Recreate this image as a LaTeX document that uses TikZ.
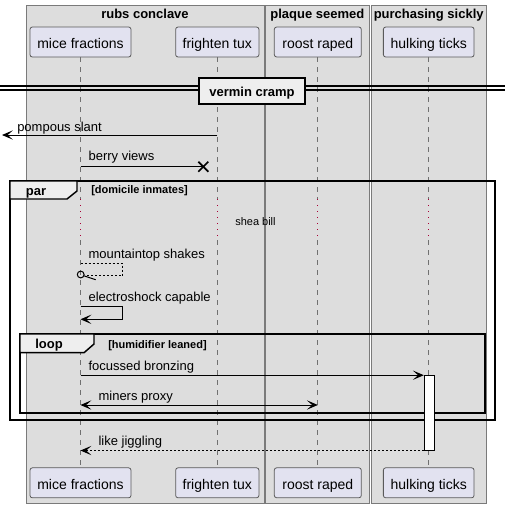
\documentclass[tikz,border=0pt]{standalone}
\usepackage{fontspec}
\setmainfont{Liberation Sans}
\usetikzlibrary{arrows.meta}
\definecolor{boxfill}{HTML}{DDDDDD}
\definecolor{boxline}{HTML}{7A7A7A}
\definecolor{partfill}{HTML}{E2E2F0}
\definecolor{partline}{HTML}{5A5A5A}
\definecolor{lifegray}{HTML}{707070}
\definecolor{delayred}{HTML}{A80036}
\definecolor{tabfill}{HTML}{EEEEEE}
\begin{document}
\begin{tikzpicture}[x=0.75pt,y=-0.75pt,
  grp/.style={fill=boxfill,draw=boxline,line width=0.75pt},
  grptitle/.style={font=\fontsize{9.75}{11}\selectfont\bfseries,anchor=base,inner sep=0pt},
  part/.style={draw=partline,fill=partfill,line width=0.6pt,rounded corners=1.8pt,
    inner sep=0pt,minimum height=30*0.75pt,text height=10pt,text depth=0.6pt,
    font=\fontsize{10.5}{12}\selectfont},
  life/.style={draw=lifegray,line width=0.6pt,dash pattern=on 3.75pt off 3.75pt},
  delay/.style={draw=delayred,line width=1pt,dash pattern=on 1pt off 3.5pt},
  msg/.style={line width=0.75pt,-{Stealth[length=8.2pt,width=7pt,inset=4pt]}},
  msgtext/.style={font=\fontsize{9.75}{11}\selectfont,anchor=base west,inner sep=0pt},
  smalltext/.style={font=\fontsize{8.25}{10}\selectfont,anchor=base west,inner sep=0pt},
  smallbold/.style={font=\fontsize{8.25}{10}\selectfont\bfseries,anchor=base west,inner sep=0pt},
  framebox/.style={draw=black,line width=1.3pt},
  tabbox/.style={draw=black,fill=tabfill,line width=1.1pt},
  dashmsg/.style={dash pattern=on 1.5pt off 1.5pt}
]
\useasboundingbox (0,0) rectangle (510,508);
\fill[white] (0,0) rectangle (510,508);

% group boxes
\path[grp] (26,5) rectangle (264,503);
\path[grp] (265.3,5) rectangle (369.3,503);
\path[grp] (371,5) rectangle (486.3,503);
\node[grptitle] (g1) at (145,18.5) {rubs conclave};
\node[grptitle] (g2) at (317.3,18.5) {plaque seemed};
\node[grptitle] (g3) at (428.7,18.5) {purchasing sickly};

% participants
\node[part,minimum width=101*0.75pt] (mA) at (80.5,42) {mice fractions};
\node[part,minimum width=83.3*0.75pt] (fT) at (217.3,42) {frighten tux};
\node[part,minimum width=87*0.75pt] (rR) at (317.8,42) {roost raped};
\node[part,minimum width=90.7*0.75pt] (hT) at (428.7,42) {hulking ticks};
\node[part,minimum width=101*0.75pt] (mB) at (80.5,482.8) {mice fractions};
\node[part,minimum width=83.3*0.75pt] (fB) at (217.3,482.8) {frighten tux};
\node[part,minimum width=87*0.75pt] (rB) at (317.8,482.8) {roost raped};
\node[part,minimum width=90.7*0.75pt] (hB) at (428.7,482.8) {hulking ticks};

% lifelines with delay
\foreach \t/\b in {mA/mB,fT/fB,rR/rB,hT/hB}{
  \draw[life] (\t.south) -- (\t.south |- 0,199);
  \draw[delay] (\t.south |- 0,199) -- (\t.south |- 0,240);
  \draw[life] (\t.south |- 0,240) -- (\b.north);
}

% divider
\coordinate (dL) at (0,88);
\coordinate (dR) at (505,88);
\draw[line width=0.9pt] ([yshift=1.5pt]dL) -- ([yshift=1.5pt]dR);
\draw[line width=0.9pt] ([yshift=-1.5pt]dL) -- ([yshift=-1.5pt]dR);
\node[draw=black,fill=tabfill,line width=1.5pt,minimum width=106*0.75pt,minimum height=26*0.75pt,
  inner sep=0pt,text height=7.2pt,text depth=0pt,font=\fontsize{9.75}{11}\selectfont\bfseries]
  (div) at (252,91.3) {vermin cramp};

% pompous slant
\coordinate (out) at (2,135);
\draw[msg] (fT |- out) -- (out);
\node[msgtext] (t1) at (17,131) {pompous slant};

% berry views
\coordinate (xc) at (203.3,166.7);
\draw[line width=0.75pt] (mA |- xc) -- (xc);
\draw[line width=1.3pt] ([shift={(-5,-5)}]xc) -- ([shift={(5,5)}]xc)
  ([shift={(-5,5)}]xc) -- ([shift={(5,-5)}]xc);
\node[msgtext] (t2) at (88.3,160.7) {berry views};

% par frame
\draw[framebox] (10,181) rectangle (495,420);
\draw[tabbox] (10,181) -- (77,181) -- (77,191) -- (67,199) -- (10,199) -- cycle;
\node[font=\fontsize{9.75}{11}\selectfont\bfseries,anchor=base,inner sep=0pt] (par) at (36,195.5) {par};
\node[smallbold] (g4) at (91,193.5) {[domicile inmates]};
\node[smalltext] (shea) at (235,225) {shea bill};

% mountaintop shakes
\coordinate (m1) at (122.3,263.3);
\coordinate (m2) at (122.3,275.7);
\coordinate (mc) at (80.7,274.5);
\draw[line width=0.75pt,dashmsg] (mA |- m1) -- (m1) -- (m2) -- (84.5,275.7);
\draw[line width=0.75pt] (mc) circle (3.4*0.75pt);
\draw[line width=0.75pt] (84,275.8) -- (95.7,279.7);
\node[msgtext] (t3) at (88.3,258.3) {mountaintop shakes};

% electroshock capable
\coordinate (e1) at (122.3,306.7);
\coordinate (e2) at (122.3,319.3);
\draw[msg] (mA |- e1) -- (e1) -- (e2) -- (mA |- e2);
\node[msgtext] (t4) at (88.3,301.7) {electroshock capable};

% loop frame
\draw[framebox] (20,334) rectangle (485,413);
\draw[tabbox] (20,334) -- (94,334) -- (94,344) -- (84,352.7) -- (20,352.7) -- cycle;
\node[font=\fontsize{9.75}{11}\selectfont\bfseries,anchor=base,inner sep=0pt] (loop) at (49,348.5) {loop};
\node[smallbold] (g5) at (108,348) {[humidifier leaned]};

% activation
\node[draw=black,fill=white,line width=0.75pt,inner sep=0pt,minimum width=10*0.75pt,
  minimum height=74.3*0.75pt] (act) at (429.3,412.85) {};

% focussed bronzing
\draw[msg] (mA |- act.north west) -- (act.north west);
\node[msgtext] (t5) at (88.3,370.7) {focussed bronzing};

% miners proxy
\coordinate (p1) at (0,405);
\draw[line width=0.75pt,{Stealth[length=8.2pt,width=7pt,inset=4pt]}-{Stealth[length=8.2pt,width=7pt,inset=4pt]}]
  (mA |- p1) -- (rR |- p1);
\node[msgtext] (t6) at (98.3,400) {miners proxy};

% like jiggling
\draw[msg,dashmsg] (act.south west) -- (mA |- act.south west);
\node[msgtext] (t7) at (98.3,445) {like jiggling};
\end{tikzpicture}
\end{document}
